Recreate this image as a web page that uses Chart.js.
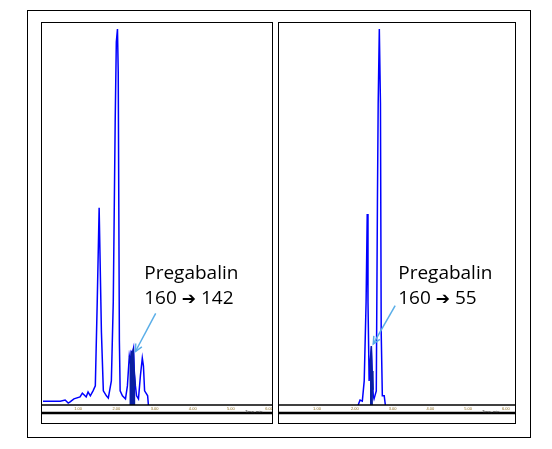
<!DOCTYPE html>
<html>
<head>
<meta charset="utf-8">
<script src="https://cdn.jsdelivr.net/npm/chart.js@4"></script>
<style>
  body { margin: 0; background: #fff; }
  .frame { position: absolute; left: 27px; top: 10px; width: 502px; height: 426px; border: 1px solid #000; }
  .panel { position: absolute; top: 22px; height: 400px; border: 1px solid #000; }
  .panel canvas { display: block; }
</style>
</head>
<body>
<div class="frame"></div>
<div class="panel" style="left:41px;width:230px"><canvas id="leftChart" width="230" height="400"></canvas></div>
<div class="panel" style="left:278px;width:236px"><canvas id="rightChart" width="236" height="400"></canvas></div>
<script>
// retention time (min) and response (% of max)
const leftTimes = [0.08, 0.53, 0.66, 0.74, 0.79, 0.89, 1.05, 1.11, 1.16, 1.21, 1.26, 1.32, 1.39, 1.45, 1.50, 1.55, 1.61, 1.66, 1.74, 1.79, 1.87, 1.92, 1.97, 2.00, 2.03, 2.05, 2.08, 2.10, 2.16, 2.24, 2.29, 2.34, 2.37, 2.39, 2.42, 2.45, 2.47, 2.50, 2.53, 2.58, 2.63, 2.68, 2.71, 2.74, 2.79, 2.82, 2.84];
const leftValues = [1.0, 1.0, 1.3, 0.5, 0.8, 1.6, 2.1, 3.1, 2.6, 2.1, 3.4, 2.4, 3.7, 5.0, 27, 51.6, 19, 3.7, 2.4, 1.8, 6.3, 27, 74, 95, 98.4, 87, 16.8, 3.7, 2.4, 1.6, 5.0, 12.8, 11.0, 14.0, 13.6, 14.9, 8.9, 5.0, 2.4, 1.6, 7.6, 12.3, 10.2, 3.7, 2.9, 2.4, 0];
const leftPeakTimes = [2.34, 2.37, 2.39, 2.42, 2.45, 2.47, 2.50];
const leftPeakValues = [12.8, 11.0, 14.0, 13.6, 14.9, 8.9, 5.0];

const rightTimes = [2.09, 2.14, 2.20, 2.25, 2.30, 2.33, 2.35, 2.38, 2.41, 2.44, 2.46, 2.49, 2.51, 2.57, 2.60, 2.62, 2.65, 2.68, 2.70, 2.73, 2.78, 2.81];
const rightValues = [0, 1.3, 1.0, 6.3, 27, 50, 27, 6.3, 11.5, 15.4, 8.9, 2.4, 1.6, 3.7, 53, 79, 98.4, 79, 19, 2.4, 2.4, 0];
const rightPeakTimes = [2.40, 2.41, 2.44, 2.46, 2.48];
const rightPeakValues = [9, 11.5, 15.4, 8.9, 4];

const tickValues = [1, 2, 3, 4, 5, 6];
const tickLabels = ['1.00', '2.00', '3.00', '4.00', '5.00', '6.00'];

const BLUE = '#0000ff';
const NAVY = '#0a1fa0';
const ARROW = '#5aaee8';

const pts = (xs, ys) => xs.map((x, i) => ({ x, y: ys[i] }));

const decor = {
  id: 'decor',
  afterDraw(chart, args, o) {
    const { ctx, chartArea: a, scales: { x, y } } = chart;
    ctx.save();
    ctx.strokeStyle = '#000';
    ctx.lineWidth = 1.5;
    ctx.beginPath(); ctx.moveTo(0, a.bottom); ctx.lineTo(chart.width, a.bottom); ctx.stroke();
    ctx.lineWidth = 2.5;
    ctx.beginPath(); ctx.moveTo(0, a.bottom + 8); ctx.lineTo(chart.width, a.bottom + 8); ctx.stroke();
    ctx.fillStyle = '#8a6a20';
    ctx.font = '4px sans-serif';
    ctx.textAlign = 'center';
    tickValues.forEach((t, i) => ctx.fillText(tickLabels[i], x.getPixelForValue(t), a.bottom + 5));
    ctx.fillStyle = '#333';
    ctx.fillText('Time, min', x.getPixelForValue(5.6), a.bottom + 8);
    // label and arrow
    const tx = x.getPixelForValue(o.tx), ty = y.getPixelForValue(o.ty);
    ctx.fillStyle = '#000';
    ctx.textAlign = 'left';
    ctx.font = '19px "Open Sans", sans-serif';
    ctx.fillText('Pregabalin', tx, ty);
    ctx.fillText('160 ', tx, ty + 25);
    let w = ctx.measureText('160 ').width;
    ctx.font = 'bold 17px "DejaVu Sans", sans-serif';
    ctx.fillText('\u2794', tx + w, ty + 25);
    w += ctx.measureText('\u2794').width;
    ctx.font = '19px "Open Sans", sans-serif';
    ctx.fillText(' ' + o.line2, tx + w, ty + 25);
    const x0 = x.getPixelForValue(o.ax0), y0 = y.getPixelForValue(o.ay0);
    const x1 = x.getPixelForValue(o.ax1), y1 = y.getPixelForValue(o.ay1);
    ctx.strokeStyle = ARROW; ctx.lineWidth = 1.5;
    ctx.beginPath(); ctx.moveTo(x0, y0); ctx.lineTo(x1, y1); ctx.stroke();
    const ang = Math.atan2(y1 - y0, x1 - x0);
    ctx.beginPath();
    ctx.moveTo(x1 - 8 * Math.cos(ang - 0.45), y1 - 8 * Math.sin(ang - 0.45));
    ctx.lineTo(x1, y1);
    ctx.lineTo(x1 - 8 * Math.cos(ang + 0.45), y1 - 8 * Math.sin(ang + 0.45));
    ctx.stroke();
    ctx.restore();
  }
};

function makeChart(id, times, values, peakT, peakV, xmin, xmax, pad, note) {
  new Chart(document.getElementById(id), {
    type: 'line',
    data: {
      datasets: [
        { data: pts(peakT, peakV), borderColor: NAVY, backgroundColor: NAVY, borderWidth: 1, fill: 'origin', pointRadius: 0, tension: 0 },
        { data: pts(times, values), borderColor: BLUE, borderWidth: 1.5, fill: false, pointRadius: 0, tension: 0 }
      ]
    },
    options: {
      responsive: false,
      animation: false,
      layout: { padding: pad },
      scales: {
        x: { type: 'linear', min: xmin, max: xmax, display: false },
        y: { min: 0, max: 100, display: false }
      },
      plugins: { legend: { display: false }, tooltip: { enabled: false }, decor: note }
    },
    plugins: [decor]
  });
}

makeChart('leftChart', leftTimes, leftValues, leftPeakTimes, leftPeakValues, 0.08, 6.05,
  { left: 1, right: 1, top: 0, bottom: 18 },
  { tx: 2.73, ty: 33, line2: '142', ax0: 3.03, ay0: 24, ax1: 2.5, ay1: 14 });
makeChart('rightChart', rightTimes, rightValues, rightPeakTimes, rightPeakValues, 0.02, 6.19,
  { left: 1, right: 2, top: 0, bottom: 18 },
  { tx: 3.15, ty: 33, line2: '55', ax0: 3.07, ay0: 26, ax1: 2.49, ay1: 16 });
</script>
</body>
</html>
